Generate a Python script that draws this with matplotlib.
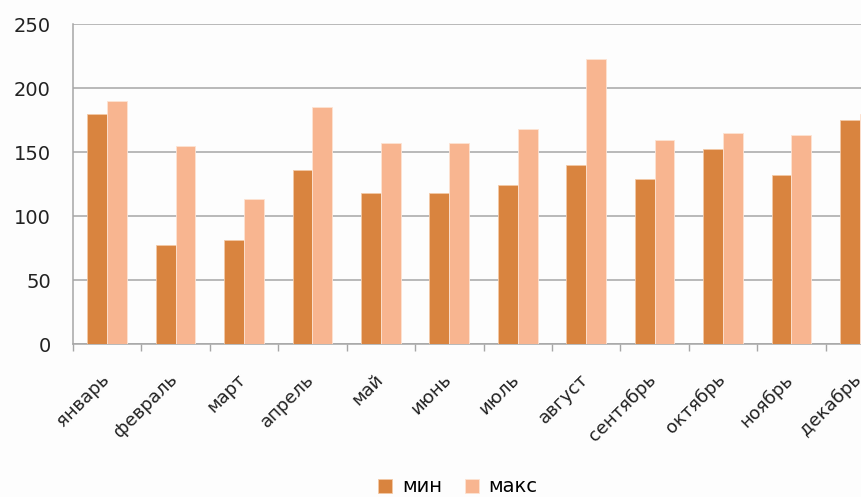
import numpy as np
import matplotlib
matplotlib.use("Agg")
import matplotlib.pyplot as plt

# --- data ---
months = ['январь', 'февраль', 'март', 'апрель', 'май', 'июнь',
          'июль', 'август', 'сентябрь', 'октябрь', 'ноябрь', 'декабрь']
v_min = [180, 77, 81, 136, 118, 118, 124, 140, 129, 152, 132, 175]
v_max = [190, 155, 113, 185, 157, 157, 168, 223, 159, 165, 163, 180]
y_ticks = [0, 50, 100, 150, 200, 250]

c_min = '#D9843F'
c_max = '#F8B590'
grid_c = '#A6A6A6'

plt.rcParams['font.family'] = ['DejaVu Sans']

fig = plt.figure(figsize=(8.61, 4.97), dpi=100, facecolor='#FDFDFD')
# plot area runs past the right edge, as in the cropped original
ax = fig.add_axes([73 / 861, 153 / 497, 821 / 861, 320 / 497])
ax.set_facecolor('#FDFDFD')

x = np.arange(len(months))
w = 0.29
ax.bar(x - w / 2, v_min, w, color=c_min, edgecolor='#F3C9A6', linewidth=0.6,
       label='мин', zorder=3)
ax.bar(x + w / 2, v_max, w, color=c_max, edgecolor='#FDE3D3', linewidth=0.6,
       label='макс', zorder=3)

ax.set_xlim(-0.5, len(months) - 0.5)
ax.set_ylim(0, 250)
ax.set_yticks(y_ticks)
ax.yaxis.grid(True, color=grid_c, linewidth=1.1, zorder=0)
ax.tick_params(axis='y', length=0, pad=16, labelsize=14, labelcolor='#222222')

# category boundaries carry the x ticks
ax.set_xticks(np.arange(len(months) + 1) - 0.5)
ax.set_xticklabels([])
ax.tick_params(axis='x', length=5, width=1, color=grid_c)
for i, m in enumerate(months):
    ax.annotate(m, xy=(i, 0), xycoords=('data', 'axes fraction'),
                xytext=(4, -19), textcoords='offset points',
                rotation=45, ha='right', va='top', fontsize=13,
                color='#222222')

for s in ['top', 'right']:
    ax.spines[s].set_visible(False)
ax.spines['left'].set_color(grid_c)
ax.spines['bottom'].set_color(grid_c)
ax.spines['left'].set_linewidth(1.1)
ax.spines['bottom'].set_linewidth(1.1)

fig.legend(loc='center', bbox_to_anchor=(458 / 861, 10 / 497), ncol=2,
           frameon=False, fontsize=14, handlelength=0.7, handleheight=0.7,
           handletextpad=0.5, columnspacing=1.2, borderpad=0.1)

fig.savefig('out.png', dpi=100, facecolor=fig.get_facecolor())
